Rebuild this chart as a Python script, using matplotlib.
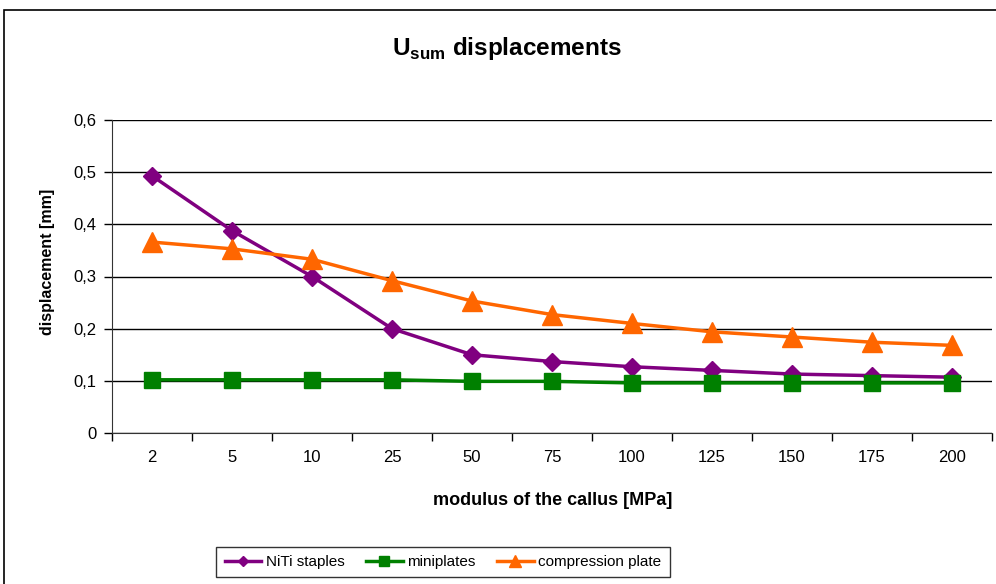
import matplotlib
matplotlib.use("Agg")
from matplotlib import pyplot as plt
from matplotlib.patches import Rectangle
from matplotlib.ticker import FuncFormatter

plt.rcParams['font.family'] = ['Liberation Sans', 'DejaVu Sans']
plt.rcParams['mathtext.fontset'] = 'custom'
plt.rcParams['mathtext.rm'] = 'Liberation Sans'
plt.rcParams['mathtext.bf'] = 'Liberation Sans:bold'

categories = ['2', '5', '10', '25', '50', '75', '100', '125', '150', '175', '200']
niti = [0.493, 0.388, 0.300, 0.200, 0.150, 0.137, 0.127, 0.120, 0.113, 0.110, 0.107]
miniplates = [0.102, 0.102, 0.102, 0.102, 0.099, 0.099, 0.096, 0.096, 0.096, 0.096, 0.096]
compression = [0.366, 0.353, 0.333, 0.292, 0.253, 0.227, 0.210, 0.194, 0.184, 0.174, 0.168]
y_ticks = [0, 0.1, 0.2, 0.3, 0.4, 0.5, 0.6]

fig = plt.figure(figsize=(9.96, 5.84), dpi=100)
ax = fig.add_axes([112/996, 1 - 433/584, (992 - 112)/996, (433 - 120)/584])

x = list(range(len(categories)))
ax.plot(x, niti, color='#800080', lw=2.5, marker='D', ms=9, label='NiTi staples', zorder=3)
ax.plot(x, miniplates, color='#008000', lw=2.5, marker='s', ms=12, label='miniplates', zorder=3)
ax.plot(x, compression, color='#FF6600', lw=2.5, marker='^', ms=14, label='compression plate', zorder=3)

ax.set_xlim(-0.5, len(categories) - 0.5)
ax.set_ylim(0, 0.6)
ax.set_yticks(y_ticks)
ax.yaxis.set_major_formatter(FuncFormatter(lambda v, p: ('%g' % round(v, 1)).replace('.', ',')))
ax.set_xticks(x)
ax.set_xticklabels(categories)
ax.set_xticks([i - 0.5 for i in range(len(categories) + 1)], minor=True)
ax.tick_params(axis='x', which='major', length=0, pad=12, labelsize=12)
ax.tick_params(axis='x', which='minor', length=6, width=1, direction='out')
ax.tick_params(axis='y', length=6, width=1, direction='out', labelsize=12, pad=5)
ax.grid(axis='y', color='black', lw=1)
ax.set_axisbelow(True)
for s in ['top', 'right']:
    ax.spines[s].set_visible(False)
for s in ['left', 'bottom']:
    ax.spines[s].set_color('#333333')

ax.set_xlabel('modulus of the callus [MPa]', fontsize=13, fontweight='bold')
ax.xaxis.set_label_coords((553 - 112)/880, -(492 - 433)/313)
ax.set_ylabel('displacement [mm]', fontsize=11.5, fontweight='bold')
ax.yaxis.set_label_coords(-(112 - 55)/880, (433 - 262)/313)
fig.text(507/996, 1 - 48/584, r'U$_{\mathbf{sum}}$ displacements', fontsize=17.5, fontweight='bold',
         ha='center', va='center')

leg = fig.legend(loc='center', bbox_to_anchor=(443/996, 1 - 562/584), ncol=3, frameon=True,
                 fancybox=False, edgecolor='black', fontsize=11, markerscale=0.6,
                 handlelength=2.4, handletextpad=0.3, columnspacing=1.4, borderpad=0.55)
leg.get_frame().set_linewidth(1)

fig.patches.append(Rectangle((4/996, -0.1), 1.2, 1 - 10/584 + 0.1, transform=fig.transFigure,
                             fill=False, edgecolor='black', lw=1.2))

fig.savefig('out.png', dpi=100)
